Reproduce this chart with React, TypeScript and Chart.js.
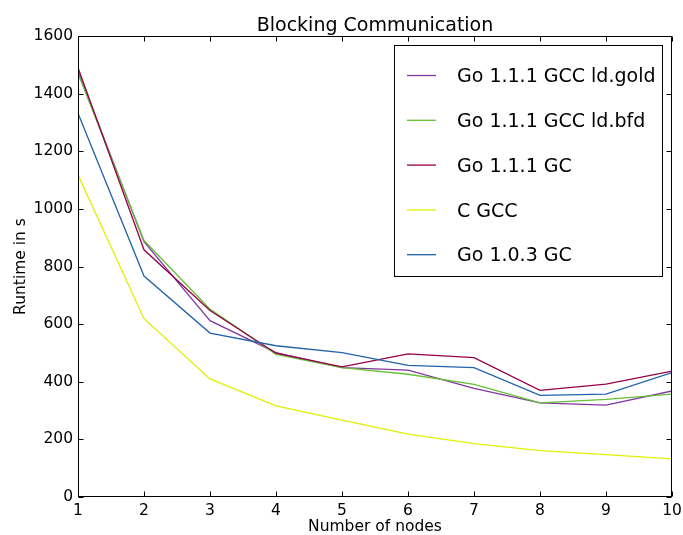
import React, { useEffect, useRef } from "react";
import { Chart, registerables } from "chart.js";

Chart.register(...registerables);

const chartTitle = "Blocking Communication";
const xAxisTitle = "Number of nodes";
const yAxisTitle = "Runtime in s";

const nodes = [1, 2, 3, 4, 5, 6, 7, 8, 9, 10];
const yTickValues = [0, 200, 400, 600, 800, 1000, 1200, 1400, 1600];

const seriesLabels = [
  "Go 1.1.1 GCC ld.gold",
  "Go 1.1.1 GCC ld.bfd",
  "Go 1.1.1 GC",
  "C GCC",
  "Go 1.0.3 GC",
];
const seriesColors = ["#8338a0", "#66c035", "#960049", "#e2ef00", "#2262aa"];

const goGccGold = [1478, 886, 612, 501, 449, 440, 377, 327, 319, 368];
const goGccBfd = [1470, 890, 652, 495, 449, 426, 391, 327, 339, 357];
const goGc = [1490, 858, 647, 499, 452, 497, 484, 370, 392, 437];
const cGcc = [1118, 619, 410, 316, 267, 218, 185, 161, 147, 132];
const go103Gc = [1332, 767, 569, 525, 501, 457, 449, 353, 357, 432];

const seriesValues = [goGccGold, goGccBfd, goGc, cGcc, go103Gc];

const FONT = "'DejaVu Sans', sans-serif";

const decorPlugin = {
  id: "decor",
  afterDatasetsDraw(chart: any) {
    const { ctx, chartArea: a, scales } = chart;
    ctx.save();
    // frame
    ctx.strokeStyle = "#000";
    ctx.lineWidth = 1;
    const L = Math.round(a.left) + 0.5;
    const R = Math.round(a.right) - 0.5;
    const T = Math.round(a.top) + 0.5;
    const B = Math.round(a.bottom) - 0.5;
    ctx.strokeRect(L, T, R - L, B - T);
    // inward ticks
    ctx.beginPath();
    nodes.forEach((v) => {
      const x = Math.round(scales.x.getPixelForValue(v)) + 0.5;
      ctx.moveTo(x, B);
      ctx.lineTo(x, B - 5);
      ctx.moveTo(x, T);
      ctx.lineTo(x, T + 5);
    });
    yTickValues.forEach((v) => {
      const y = Math.round(scales.y.getPixelForValue(v)) + 0.5;
      ctx.moveTo(L, y);
      ctx.lineTo(L + 5, y);
      ctx.moveTo(R, y);
      ctx.lineTo(R - 5, y);
    });
    ctx.stroke();

    // legend box
    const lx = 394.5, ly = 45.5, lw = 268, lh = 231;
    ctx.fillStyle = "#fff";
    ctx.fillRect(lx, ly, lw, lh);
    ctx.strokeStyle = "#000";
    ctx.strokeRect(lx, ly, lw, lh);
    ctx.font = `19px ${FONT}`;
    ctx.textBaseline = "alphabetic";
    ctx.textAlign = "left";
    seriesLabels.forEach((label, i) => {
      const cy = 75.5 + i * 44.8;
      ctx.strokeStyle = seriesColors[i];
      ctx.lineWidth = 1.3;
      ctx.beginPath();
      ctx.moveTo(407, cy);
      ctx.lineTo(436, cy);
      ctx.stroke();
      ctx.fillStyle = "#000";
      ctx.fillText(label, 457, cy + 6.7);
    });

    // title
    ctx.font = `19px ${FONT}`;
    ctx.textAlign = "center";
    ctx.fillStyle = "#000";
    ctx.fillText(chartTitle, (a.left + a.right) / 2, 30.5);
    ctx.restore();
  },
};

export default function App() {
  const canvasRef = useRef<HTMLCanvasElement | null>(null);

  useEffect(() => {
    document.body.style.margin = "0";
    const canvas = canvasRef.current;
    if (!canvas) return;
    const chart = new Chart(canvas, {
      type: "line",
      data: {
        labels: nodes,
        datasets: seriesLabels.map((label, i) => ({
          label,
          data: nodes.map((n, j) => ({ x: n, y: seriesValues[i][j] })),
          borderColor: seriesColors[i],
          backgroundColor: seriesColors[i],
          borderWidth: 1.3,
          pointRadius: 0,
          fill: false,
          tension: 0,
          order: seriesLabels.length - i,
        })),
      },
      options: {
        responsive: false,
        animation: false,
        devicePixelRatio: 1,
        layout: { padding: { top: 36, right: 11, left: 0, bottom: 0 } },
        plugins: {
          legend: { display: false },
          title: { display: false },
          tooltip: { enabled: false },
        },
        scales: {
          x: {
            type: "linear",
            min: 1,
            max: 10,
            grid: { display: false, drawTicks: false },
            border: { display: false },
            ticks: {
              stepSize: 1,
              color: "#000",
              padding: 5,
              maxRotation: 0,
              font: { family: FONT, size: 15.5 },
              callback: (v: any) => String(v),
            },
            title: {
              display: true,
              text: xAxisTitle,
              color: "#000",
              font: { family: FONT, size: 15.5, lineHeight: 1 },
              padding: { top: 0, bottom: 0 },
            },
            afterFit: (scale: any) => {
              scale.height = 38;
              scale.paddingLeft = 0;
              scale.paddingRight = 0;
            },
          },
          y: {
            type: "linear",
            min: 0,
            max: 1600,
            grid: { display: false, drawTicks: false },
            border: { display: false },
            ticks: {
              stepSize: 200,
              color: "#000",
              padding: 5,
              font: { family: FONT, size: 15.5 },
              callback: (v: any) => String(v),
            },
            title: {
              display: true,
              text: yAxisTitle,
              color: "#000",
              font: { family: FONT, size: 15.5, lineHeight: 1 },
              padding: { top: 13, bottom: 0 },
            },
            afterFit: (scale: any) => {
              scale.width = 78;
              scale.paddingTop = 0;
              scale.paddingBottom = 0;
            },
          },
        },
      },
      plugins: [decorPlugin],
    });
    return () => chart.destroy();
  }, []);

  return (
    <div style={{ width: 683, height: 535, position: "relative" }}>
      <canvas ref={canvasRef} width={683} height={535} style={{ display: "block" }} />
    </div>
  );
}
